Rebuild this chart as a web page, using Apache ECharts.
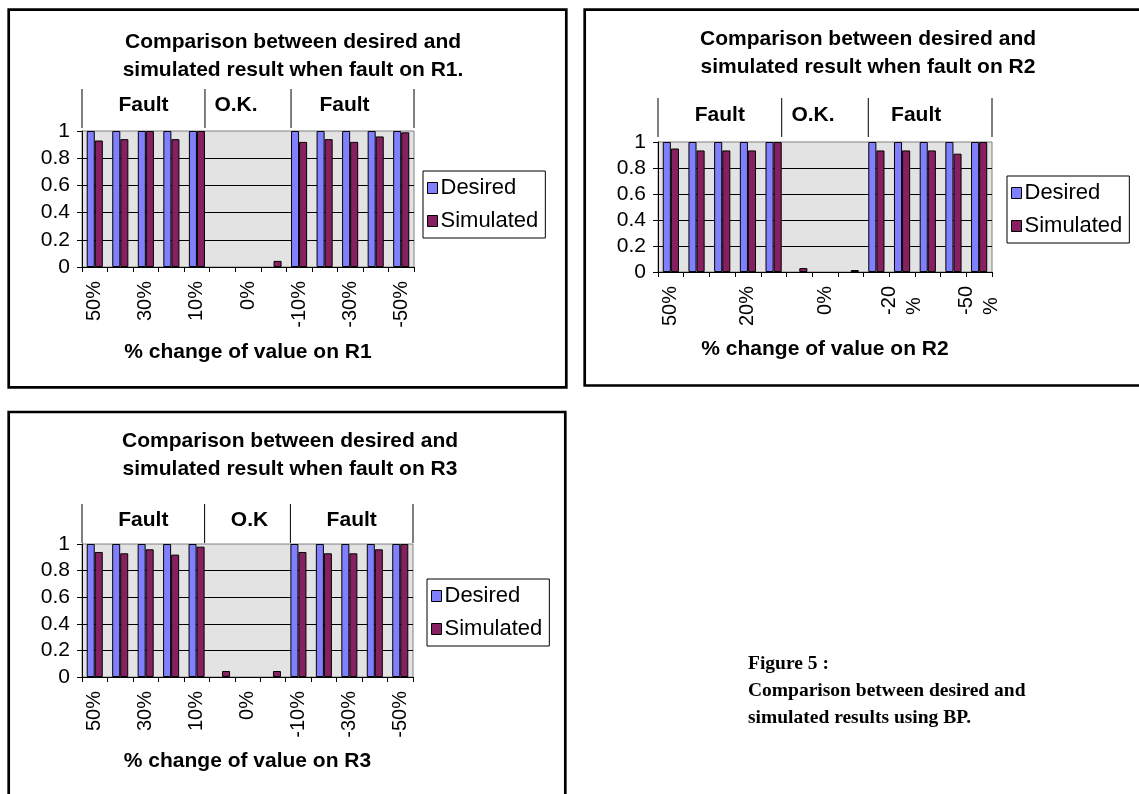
<!DOCTYPE html>
<html><head><meta charset="utf-8">
<script src="https://cdn.jsdelivr.net/npm/echarts@6/dist/echarts.min.js"></script>
<style>html,body{margin:0;padding:0;background:#fff;} #c{width:1139px;height:794px;}</style>
</head><body><div id="c"></div>
<script>
// ---------- data ----------
const categories = ['50%','40%','30%','20%','10%','5%','0%','-5%','-10%','-20%','-30%','-40%','-50%'];
const seriesNames = ['Desired', 'Simulated'];
const desiredR1   = [1, 1, 1, 1, 1, 0, 0, 0, 1, 1, 1, 1, 1];
const simulatedR1 = [0.93, 0.94, 1.0, 0.94, 1.0, 0, 0, 0.045, 0.92, 0.94, 0.92, 0.96, 0.99];
const desiredR2   = [1, 1, 1, 1, 1, 0, 0, 0, 1, 1, 1, 1, 1];
const simulatedR2 = [0.95, 0.935, 0.935, 0.935, 1.0, 0.03, 0, 0.015, 0.935, 0.935, 0.935, 0.91, 1.0];
const desiredR3   = [1, 1, 1, 1, 1, 0, 0, 0, 1, 1, 1, 1, 1];
const simulatedR3 = [0.94, 0.93, 0.96, 0.92, 0.98, 0.045, 0, 0.045, 0.94, 0.93, 0.93, 0.96, 1.0];
const chartTitles = [
  'Comparison between desired and\nsimulated result when fault on R1.',
  'Comparison between desired and\nsimulated result when fault on R2',
  'Comparison between desired and\nsimulated result when fault on R3'
];
const axisTitles = ['% change of value on R1', '% change of value on R2', '% change of value on R3'];
const groupLabelsR1 = ['Fault', 'O.K.', 'Fault'];
const groupLabelsR2 = ['Fault', 'O.K.', 'Fault'];
const groupLabelsR3 = ['Fault', 'O.K', 'Fault'];
const captionLines = ['Figure 5 :', 'Comparison between desired and', 'simulated results using BP.'];

// ---------- layout / style ----------
const SANS = '"Liberation Sans", Arial, sans-serif';
const SERIF = '"Liberation Serif", "Times New Roman", serif';
const COLORS = ['#8080ff', '#862060'];
const CAT_GAP = 0.37;
const panels = [
  {desired: desiredR1, simulated: simulatedR1, groups: groupLabelsR1,
   frame: [8.7, 9.7, 566.3, 387.3], grid: {left: 82, top: 131, width: 332, height: 136},
   titleX: 293, titleTop: 28, legend: {left: 423, top: 171},
   sepTop: 89, sepBottom: 128, groupY: 105, groupDx: [0, -12, -8], labelInterval: 1, nameGap: 75},
  {desired: desiredR2, simulated: simulatedR2, groups: groupLabelsR2,
   frame: [584.7, 9.7, 1142, 385.5], grid: {left: 658, top: 142, width: 334, height: 130},
   titleX: 868, titleTop: 25, legend: {left: 1007, top: 176},
   sepTop: 98, sepBottom: 137, groupY: 115, groupDx: [0, -12, -14], labelInterval: 2, nameGap: 67},
  {desired: desiredR3, simulated: simulatedR3, groups: groupLabelsR3,
   frame: [8.7, 412, 565.3, 800], grid: {left: 82, top: 544, width: 331, height: 133},
   titleX: 290, titleTop: 427, legend: {left: 427, top: 579},
   sepTop: 504, sepBottom: 543, groupY: 520, groupDx: [0, 2, 0], labelInterval: 1, nameGap: 74}
];

const chart = echarts.init(document.getElementById('c'), null, {renderer: 'canvas'});

// zero-height bars carry no outline (as in the original spreadsheet chart)
const barData = arr => arr.map(v => v === 0 ? {value: v, itemStyle: {borderWidth: 0}} : v);

const option = {
  backgroundColor: '#fff',
  animation: false,
  title: panels.map((p, i) => ({
    text: chartTitles[i], left: p.titleX, top: p.titleTop, textAlign: 'center', padding: 0,
    textStyle: {fontFamily: SANS, fontWeight: 'bold', fontSize: 21, lineHeight: 28, color: '#000'}
  })),
  grid: panels.map(p => Object.assign({show: true, backgroundColor: '#e3e3e3', borderColor: '#808080', borderWidth: 1}, p.grid)),
  legend: panels.map((p, i) => ({
    left: p.legend.left, top: p.legend.top, orient: 'vertical',
    data: seriesNames.map(n => ({name: n})),
    icon: 'rect', itemWidth: 10, itemHeight: 11, itemGap: 11,
    padding: [6, 7, 6, 4], borderColor: '#000', borderWidth: 1, backgroundColor: '#fff',
    textStyle: {fontFamily: SANS, fontSize: 22, color: '#000', padding: [0, 0, 0, -2]},
    itemStyle: {borderColor: '#000', borderWidth: 1},
    selectedMode: false
  })),
  xAxis: panels.map((p, i) => ({
    type: 'category', gridIndex: i, data: categories,
    name: axisTitles[i], nameLocation: 'middle', nameGap: p.nameGap,
    nameTextStyle: {fontFamily: SANS, fontWeight: 'bold', fontSize: 21, color: '#000'},
    axisLine: {lineStyle: {color: '#000', width: 1}},
    axisTick: {show: true, interval: 0, length: 5, lineStyle: {color: '#000'}},
    axisLabel: {
      interval: p.labelInterval, rotate: 90, margin: 14, color: '#000',
      fontFamily: SANS, fontSize: 20,
      formatter: i === 1 ? (v => v.charAt(0) === '-' ? '{a|' + v.slice(0, -1) + '}\n{a|%}' : v) : undefined,
      rich: {a: {fontFamily: SANS, fontSize: 20, color: '#000', align: 'left', lineHeight: 25}}
    },
    splitLine: {show: false}
  })),
  yAxis: panels.map((p, i) => ({
    type: 'value', gridIndex: i, min: 0, max: 1, interval: 0.2,
    axisLine: {show: true, lineStyle: {color: '#000', width: 1}},
    axisTick: {show: true, length: 5, lineStyle: {color: '#000'}},
    axisLabel: {color: '#000', fontFamily: SANS, fontSize: 21, margin: 12},
    splitLine: {show: true, showMaxLine: false, showMinLine: false, lineStyle: {color: '#000', width: 1}}
  })),
  series: []
};
panels.forEach((p, i) => {
  [p.desired, p.simulated].forEach((d, k) => {
    option.series.push({
      type: 'bar', name: seriesNames[k], xAxisIndex: i, yAxisIndex: i, data: barData(d),
      barGap: '0%', barCategoryGap: (CAT_GAP * 100) + '%',
      itemStyle: {color: COLORS[k], borderColor: '#000', borderWidth: 1},
      emphasis: {disabled: true}
    });
  });
});
chart.setOption(option);

// ---------- annotations computed from the axes ----------
const graphics = [];
panels.forEach((p, i) => {
  const f = p.frame;
  graphics.push({type: 'rect', silent: true, z: 100,
    shape: {x: f[0], y: f[1], width: f[2] - f[0], height: f[3] - f[1]},
    style: {fill: 'none', stroke: '#000', lineWidth: 2.7}});
  const cx = idx => chart.convertToPixel({xAxisIndex: i}, idx);
  const band = cx(1) - cx(0);
  const half = band * (1 - CAT_GAP) / 2;
  const left = p.grid.left, right = p.grid.left + p.grid.width;
  const seps = [left, cx(4) + half, cx(8) - half, right];
  seps.forEach(x => graphics.push({type: 'line', silent: true, z: 50,
    shape: {x1: x, y1: p.sepTop, x2: x, y2: p.sepBottom},
    style: {stroke: '#000', lineWidth: 1}}));
  p.groups.forEach((g, j) => graphics.push({type: 'text', silent: true, z: 50,
    style: {text: g, x: (seps[j] + seps[j + 1]) / 2 + p.groupDx[j], y: p.groupY,
      textAlign: 'center', textVerticalAlign: 'middle',
      font: 'bold 21px ' + SANS, fill: '#000'}}));
});
captionLines.forEach((t, j) => graphics.push({type: 'text', silent: true,
  style: {text: t, x: 748, y: 664 + j * 27, textAlign: 'left', textVerticalAlign: 'middle',
    font: 'bold 19.5px ' + SERIF, fill: '#000'}}));
chart.setOption({graphic: graphics});
</script></body></html>
